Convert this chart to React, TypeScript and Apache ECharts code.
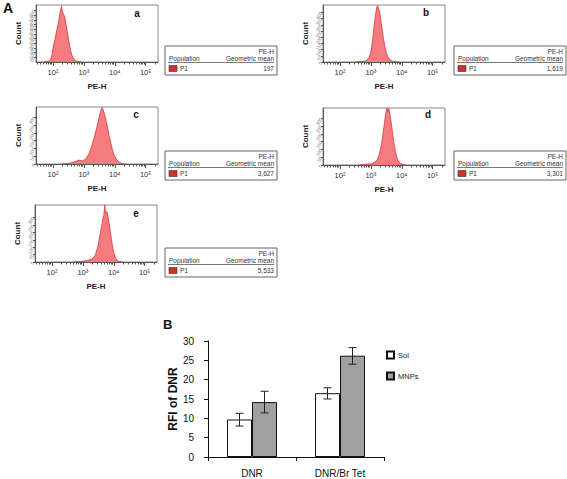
import React, { useEffect, useRef } from "react";
import * as echarts from "echarts";

const FONT = "'Liberation Sans', Arial, Helvetica, sans-serif";

// Histogram data: [log10(PE-H), count]
const histA: number[][] = [
  [1.7, 0], [1.8, 5], [1.88, 12], [1.93, 35], [1.97, 80], [2.0, 150], [2.04, 210], [2.07, 250],
  [2.1, 300], [2.13, 350], [2.16, 400], [2.19, 450], [2.22, 510], [2.25, 560], [2.28, 600],
  [2.3, 545], [2.33, 520], [2.36, 500], [2.38, 480], [2.41, 420], [2.45, 350], [2.49, 270],
  [2.53, 190], [2.57, 120], [2.62, 65], [2.68, 30], [2.75, 12], [2.85, 4], [2.95, 0],
];
const histB: number[][] = [
  [2.5, 0], [2.7, 3], [2.85, 10], [2.95, 40], [3.0, 80], [3.05, 160], [3.1, 280], [3.15, 380],
  [3.19, 440], [3.22, 455], [3.25, 425], [3.28, 410], [3.31, 360], [3.35, 290], [3.4, 200],
  [3.45, 130], [3.5, 75], [3.55, 40], [3.62, 18], [3.7, 6], [3.8, 2], [3.9, 0],
];
const histC: number[][] = [
  [2.3, 0], [2.45, 3], [2.6, 8], [2.75, 18], [2.85, 25], [2.95, 20], [3.05, 30], [3.15, 60],
  [3.25, 110], [3.35, 180], [3.45, 260], [3.52, 320], [3.58, 362], [3.62, 350], [3.68, 310],
  [3.75, 250], [3.82, 180], [3.9, 110], [3.97, 60], [4.05, 30], [4.15, 10], [4.25, 2], [4.35, 0],
];
const histD: number[][] = [
  [2.6, 0], [2.8, 4], [3.0, 8], [3.1, 15], [3.2, 30], [3.28, 70], [3.35, 140], [3.42, 240],
  [3.48, 330], [3.52, 365], [3.55, 340], [3.58, 362], [3.62, 320], [3.68, 240], [3.74, 150],
  [3.8, 80], [3.86, 35], [3.94, 12], [4.05, 3], [4.15, 0],
];
const histE: number[][] = [
  [2.7, 0], [2.9, 3], [3.1, 8], [3.3, 20], [3.4, 45], [3.48, 100], [3.55, 180], [3.62, 260],
  [3.68, 320], [3.71, 385], [3.73, 330], [3.78, 340], [3.82, 300], [3.88, 220], [3.94, 130],
  [4.0, 60], [4.06, 25], [4.12, 8], [4.2, 2], [4.3, 0],
];

const panelLetters = ["a", "b", "c", "d", "e"];
const geoMeans = ["197", "1,619", "3,627", "3,301", "5,533"];
const yMaxes = [610, 460, 365, 365, 385];
const yTicksA = [0, 50, 100, 150, 200, 250, 300, 350, 400, 450, 500, 550, 600];
const yTicksB = [0, 50, 100, 150, 200, 250, 300, 350, 400, 450];
const yTicksC = [0, 50, 100, 150, 200, 250, 300, 350];
const yTicksD = [0, 50, 100, 150, 200, 250, 300, 350];
const yTicksE = [0, 50, 100, 150, 200, 250, 300, 350];
const majorTicks = [2, 3, 4, 5];
const majorLabels = ["10²", "10³", "10⁴", "10⁵"];
const X_MIN = 1.45;
const X_MAX = 5.4;

// Bar chart (panel B)
const categories = ["DNR", "DNR/Br Tet"];
const solValues = [9.7, 16.5];
const mnpValues = [14.2, 26.2];
const solErr = [[8.0, 11.3], [15.0, 17.9]];
const mnpErr = [[11.4, 17.0], [24.0, 28.3]];

const hists = [histA, histB, histC, histD, histE];
const yTicks = [yTicksA, yTicksB, yTicksC, yTicksD, yTicksE];

const minorTicks: number[] = [];
for (let n = 1; n <= 5; n++) {
  for (let k = 2; k <= 9; k++) {
    const v = n + Math.log10(k);
    if (v > X_MIN && v < X_MAX) minorTicks.push(v);
  }
}

const panels = [
  { left: 36, top: 5, letter: [137, 13], legend: [165, 46] },
  { left: 323, top: 5, letter: [426, 12], legend: [454, 46] },
  { left: 36, top: 107, letter: [136, 114], legend: [165, 151] },
  { left: 323, top: 108, letter: [428, 114], legend: [454, 151] },
  { left: 35, top: 205, letter: [136, 213], legend: [165, 248] },
];
const PW = 122;
const PH = 57;

function legendBox(x: number, y: number, value: string) {
  const w = 112;
  const h = 29;
  const txt = (tx: number, ty: number, text: string, align: string) => ({
    type: "text",
    x: tx,
    y: ty,
    style: { text, align, verticalAlign: "middle", fontSize: 6.5, fill: "#333", fontFamily: FONT },
  });
  return {
    type: "group",
    x,
    y,
    children: [
      { type: "rect", shape: { x: 0, y: 0, width: w, height: h }, style: { fill: "#fff", stroke: "#666", lineWidth: 1 } },
      txt(w - 3, 5.5, "PE-H", "right"),
      txt(4, 12.5, "Population", "left"),
      txt(w - 3, 12.5, "Geometric mean", "right"),
      { type: "line", shape: { x1: 3, y1: 16.5, x2: w - 3, y2: 16.5 }, style: { stroke: "#555", lineWidth: 0.8 } },
      { type: "rect", shape: { x: 4, y: 19.5, width: 8, height: 6 }, style: { fill: "#d62d2d", stroke: "#333", lineWidth: 0.6 } },
      txt(15, 22.5, "P1", "left"),
      txt(w - 3, 22.5, value, "right"),
    ],
  };
}

function errSeries(data: number[][], off: number) {
  return {
    type: "custom",
    xAxisIndex: 10,
    yAxisIndex: 5,
    z: 10,
    silent: true,
    data: data.map((e, i) => [i, e[0], e[1]]),
    encode: { x: 0, y: [1, 2] },
    renderItem: (params: any, api: any) => {
      const lo = api.coord([api.value(0), api.value(1)]);
      const hi = api.coord([api.value(0), api.value(2)]);
      const x = lo[0] + off;
      const cap = 4;
      const style = { stroke: "#222", lineWidth: 1 };
      return {
        type: "group",
        children: [
          { type: "line", shape: { x1: x, y1: lo[1], x2: x, y2: hi[1] }, style },
          { type: "line", shape: { x1: x - cap, y1: lo[1], x2: x + cap, y2: lo[1] }, style },
          { type: "line", shape: { x1: x - cap, y1: hi[1], x2: x + cap, y2: hi[1] }, style },
        ],
      };
    },
  };
}

export default function App() {
  const ref = useRef<HTMLDivElement>(null);
  useEffect(() => {
    if (!ref.current) return;
    const chart = echarts.init(ref.current, undefined, { renderer: "svg" });

    const grids: any[] = panels.map((p) => ({
      left: p.left,
      top: p.top,
      width: PW,
      height: PH,
      show: true,
      borderColor: "#8a8a8a",
      borderWidth: 1,
      backgroundColor: "transparent",
    }));
    grids.push({ left: 208, top: 341, width: 176, height: 116 });

    const xAxes: any[] = [];
    const yAxes: any[] = [];
    panels.forEach((_, i) => {
      xAxes.push({
        type: "value",
        gridIndex: i,
        min: X_MIN,
        max: X_MAX,
        position: "bottom",
        axisLine: { show: true, lineStyle: { color: "#555", width: 1 } },
        splitLine: { show: false },
        axisTick: { show: true, customValues: majorTicks, length: 4, lineStyle: { color: "#555" } },
        axisLabel: {
          customValues: majorTicks,
          formatter: (v: number) => majorLabels[majorTicks.indexOf(Math.round(v))] ?? "",
          fontSize: 7.5,
          color: "#333",
          margin: 6,
          fontFamily: FONT,
        },
        name: "PE-H",
        nameLocation: "middle",
        nameGap: 20,
        nameTextStyle: { fontWeight: "bold", fontSize: 8, color: "#222", fontFamily: FONT },
      });
      xAxes.push({
        type: "value",
        gridIndex: i,
        min: X_MIN,
        max: X_MAX,
        position: "bottom",
        axisLine: { show: false },
        splitLine: { show: false },
        axisTick: { show: true, customValues: minorTicks, length: 2.5, lineStyle: { color: "#555" } },
        axisLabel: { show: false },
      });
      yAxes.push({
        type: "value",
        gridIndex: i,
        min: 0,
        max: yMaxes[i],
        axisLine: { show: true, lineStyle: { color: "#555" } },
        splitLine: { show: false },
        axisTick: { show: true, customValues: yTicks[i], length: 2, lineStyle: { color: "#555" } },
        axisLabel: {
          customValues: yTicks[i],
          fontSize: 4.5,
          rotate: 60,
          color: "#777",
          margin: 2,
          fontFamily: FONT,
        },
        name: "Count",
        nameLocation: "middle",
        nameGap: 14,
        nameTextStyle: { fontWeight: "bold", fontSize: 8, color: "#222", fontFamily: FONT },
      });
    });
    xAxes.push({
      type: "category",
      gridIndex: 5,
      data: categories,
      axisLine: { show: true, lineStyle: { color: "#111" } },
      axisTick: { show: true, alignWithLabel: false, length: 4, lineStyle: { color: "#111" } },
      axisLabel: { fontSize: 10, color: "#111", margin: 11, fontFamily: FONT },
    });
    yAxes.push({
      type: "value",
      gridIndex: 5,
      min: 0,
      max: 30,
      interval: 5,
      axisLine: { show: true, lineStyle: { color: "#111" } },
      axisTick: { show: true, length: 4, lineStyle: { color: "#111" } },
      splitLine: { show: false },
      axisLabel: { fontSize: 10, color: "#111", margin: 14, fontFamily: FONT },
      name: "RFI of DNR",
      nameLocation: "middle",
      nameGap: 26,
      nameTextStyle: { fontWeight: "bold", fontSize: 12, color: "#111", fontFamily: FONT },
    });

    const series: any[] = hists.map((h, i) => ({
      type: "line",
      xAxisIndex: 2 * i,
      yAxisIndex: i,
      data: h,
      symbol: "none",
      silent: true,
      lineStyle: { color: "#d9363b", width: 0.8 },
      areaStyle: { color: "#f47c7e", opacity: 1 },
    }));
    series.push({
      type: "bar",
      name: "Sol",
      xAxisIndex: 10,
      yAxisIndex: 5,
      data: solValues,
      barWidth: 25,
      barGap: "0%",
      itemStyle: { color: "#ffffff", borderColor: "#111", borderWidth: 1 },
    });
    series.push({
      type: "bar",
      name: "MNPs",
      xAxisIndex: 10,
      yAxisIndex: 5,
      data: mnpValues,
      barWidth: 25,
      barGap: "0%",
      itemStyle: { color: "#a0a0a0", borderColor: "#111", borderWidth: 1 },
    });
    series.push(errSeries(solErr, -12.5));
    series.push(errSeries(mnpErr, 12.5));

    const graphic: any[] = [
      { type: "text", x: 3, y: 1, style: { text: "A", fontSize: 14, fontWeight: "bold", fill: "#111", fontFamily: FONT } },
      { type: "text", x: 163, y: 318, style: { text: "B", fontSize: 13, fontWeight: "bold", fill: "#111", fontFamily: FONT } },
    ];
    panels.forEach((p, i) => {
      graphic.push({
        type: "text",
        x: p.letter[0],
        y: p.letter[1],
        style: {
          text: panelLetters[i],
          fontSize: 10,
          fontWeight: "bold",
          fill: "#111",
          align: "center",
          verticalAlign: "middle",
          fontFamily: FONT,
        },
      });
      graphic.push(legendBox(p.legend[0], p.legend[1], geoMeans[i]));
    });

    chart.setOption({
      animation: false,
      backgroundColor: "#fff",
      textStyle: { fontFamily: FONT },
      grid: grids,
      xAxis: xAxes,
      yAxis: yAxes,
      series,
      legend: {
        data: ["Sol", "MNPs"],
        orient: "vertical",
        left: 381,
        top: 345.5,
        itemWidth: 7,
        itemHeight: 7,
        itemGap: 12,
        icon: "rect",
        selectedMode: false,
        textStyle: { fontSize: 7.5, color: "#222", fontFamily: FONT, padding: [0, 0, 0, -1] },
      },
      graphic,
    });
    return () => chart.dispose();
  }, []);
  return (
    <div
      ref={ref}
      style={{ position: "absolute", left: 0, top: 0, width: 567, height: 479 }}
    />
  );
}
